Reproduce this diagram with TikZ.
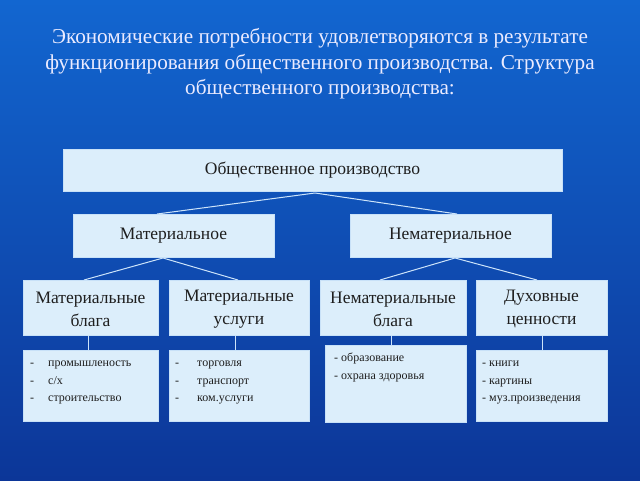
\documentclass[tikz,border=0pt]{standalone}
\usepackage{fontspec}
\setmainfont{Liberation Serif}
\definecolor{bgtop}{RGB}{18,102,208}
\definecolor{bgbot}{RGB}{12,54,152}
\definecolor{boxfill}{RGB}{220,238,251}
\definecolor{boxline}{RGB}{200,225,248}
\definecolor{txt}{RGB}{30,30,30}
\definecolor{conn}{RGB}{205,228,250}
\tikzset{
  bx/.style={draw=boxline, line width=0.8pt, fill=boxfill},
  lbl/.style={text=txt, align=center, inner sep=0pt},
  conline/.style={draw=conn, line width=1pt},
  itm/.style={text=txt, anchor=base west, inner sep=0pt, font=\fontsize{12}{14}\selectfont}
}
\begin{document}
\begin{tikzpicture}[x=1pt,y=-1pt]
\useasboundingbox (0,0) rectangle (640,480);
\shade[top color=bgtop, bottom color=bgbot] (0,0) rectangle (640,480);
% title
\node[text=white!92!blue, align=center, font=\fontsize{21.2}{25.5}\selectfont] (title) at (320,64)
 {Экономические потребности удовлетворяются в результате\\функционирования общественного производства. Структура\\общественного производства:};
% level 1
\draw[bx] (63,149) rectangle (562,191);
\node[lbl, font=\fontsize{17.5}{20}\selectfont] (top) at (312.5,170.5) {Общественное производство};
\coordinate (topb) at (315,193);
% level 2
\draw[bx] (73,214) rectangle (274,257);
\node[lbl, font=\fontsize{17.5}{20}\selectfont] (mat) at (173.5,236) {Материальное};
\draw[bx] (350,214) rectangle (551,257);
\node[lbl, font=\fontsize{17.5}{20}\selectfont] (nemat) at (450.5,236) {Нематериальное};
\coordinate (matt) at (157,214);
\coordinate (nematt) at (457,214);
\coordinate (matb) at (163,258);
\coordinate (nematb) at (455,258);
% level 3
\draw[bx] (23,280) rectangle (158,335);
\node[lbl, font=\fontsize{17.5}{23}\selectfont] (mb) at (90.5,309) {Материальные\\блага};
\draw[bx] (169,280) rectangle (309,335);
\node[lbl, font=\fontsize{17.5}{23}\selectfont] (mu) at (239,309) {Материальные\\услуги};
\draw[bx] (320,280) rectangle (466,335);
\node[lbl, font=\fontsize{17.5}{23}\selectfont] (nb) at (393,309) {Нематериальные\\блага};
\draw[bx] (476,280) rectangle (607,335);
\node[lbl, font=\fontsize{17.5}{23}\selectfont] (dc) at (541.5,309) {Духовные\\ценности};
\coordinate (mbt) at (84,280);
\coordinate (mut) at (238,280);
\coordinate (nbt) at (380,280);
\coordinate (dct) at (537,280);
% level 4
\draw[bx] (23,350) rectangle (158,421);
\draw[bx] (169,350) rectangle (309,421);
\draw[bx] (325,345) rectangle (466,422);
\draw[bx] (476,350) rectangle (607,421);
\coordinate (l1) at (88,350);
\coordinate (l2) at (235,350);
\coordinate (l3) at (391,345);
\coordinate (l4) at (542,350);
\coordinate (u1) at (88,335);
\coordinate (u2) at (235,335);
\coordinate (u3) at (391,335);
\coordinate (u4) at (542,335);
% items
\node[itm] (a1d) at (30,366) {-};
\node[itm] (a1) at (48,366) {промышленость};
\node[itm] (a2d) at (30,384) {-};
\node[itm] (a2) at (48,384) {с/х};
\node[itm] (a3d) at (30,401) {-};
\node[itm] (a3) at (48,401) {строительство};
\node[itm] (b1d) at (175,366) {-};
\node[itm] (b1) at (197,366) {торговля};
\node[itm] (b2d) at (175,384) {-};
\node[itm] (b2) at (197,384) {транспорт};
\node[itm] (b3d) at (175,401) {-};
\node[itm] (b3) at (197,401) {ком.услуги};
\node[itm] (c1) at (334,361) {- образование};
\node[itm] (c2) at (334,379) {- охрана здоровья};
\node[itm] (d1) at (482,366) {- книги};
\node[itm] (d2) at (482,384) {- картины};
\node[itm] (d3) at (482,401) {- муз.произведения};
% connectors
\draw[conline] (matt) -- (topb) -- (nematt);
\draw[conline] (mbt) -- (matb) -- (mut);
\draw[conline] (nbt) -- (nematb) -- (dct);
\draw[conline] (u1) -- (l1);
\draw[conline] (u2) -- (l2);
\draw[conline] (u3) -- (l3);
\draw[conline] (u4) -- (l4);
\end{tikzpicture}
\end{document}
